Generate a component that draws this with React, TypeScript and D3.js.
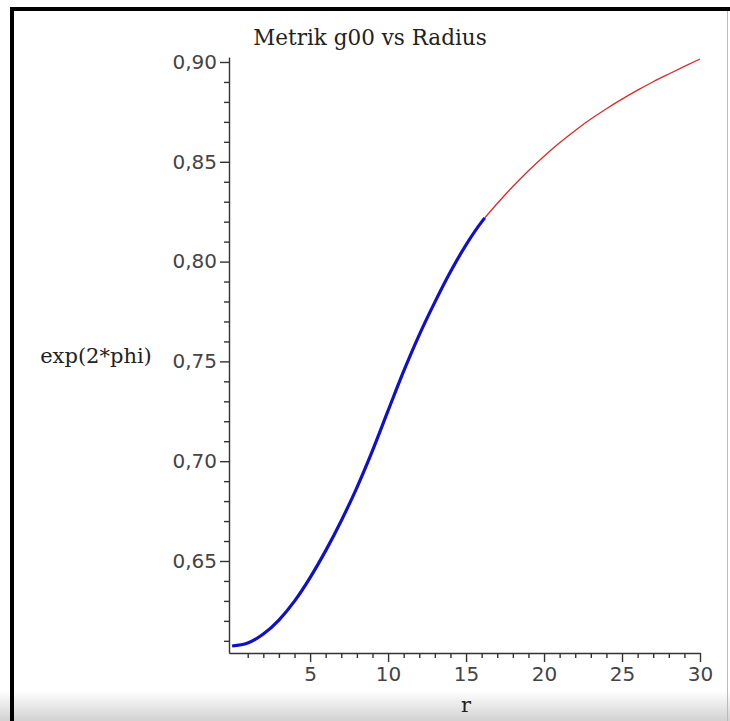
import React, { useEffect, useRef } from 'react'
import * as d3 from 'd3'

// r values and exp(2*phi)
const innerR = [0, 1, 2, 3, 4, 5, 6, 7, 8, 9, 10, 11, 12, 13, 14, 15, 16, 16.2]
const innerG = [0.6074, 0.6089, 0.6134, 0.6204, 0.6299, 0.6417, 0.6552, 0.6702, 0.6868, 0.7053, 0.7253,
  0.7451, 0.7633, 0.7797, 0.7949, 0.8084, 0.8199, 0.8219]
const outerR = [16.2, 17, 18, 19, 20, 21, 22, 23, 24, 25, 26, 27, 28, 29, 30]
const outerG = [0.8219, 0.8291, 0.8376, 0.8455, 0.8528, 0.8595, 0.8657, 0.8714, 0.8766, 0.8814, 0.8859,
  0.8901, 0.8940, 0.8978, 0.9015]

const xMajor = [5, 10, 15, 20, 25, 30]
const yMajor = [0.65, 0.70, 0.75, 0.80, 0.85, 0.90]
const xExtent = [-0.2, 30]
const yExtent = [0.6039, 0.9025]

const App = () => {
  const ref = useRef<SVGSVGElement | null>(null)

  useEffect(() => {
    const width = 730
    const height = 721
    const svg = d3.select(ref.current)
    svg.selectAll('*').remove()

    svg.append('rect').attr('width', width).attr('height', height).attr('fill', '#fff')

    // frame of the screenshot
    const grad = svg.append('defs').append('linearGradient')
      .attr('id', 'bottomBar').attr('x1', 0).attr('x2', 0).attr('y1', 0).attr('y2', 1)
    grad.append('stop').attr('offset', '0%').attr('stop-color', '#ffffff')
    grad.append('stop').attr('offset', '100%').attr('stop-color', '#d2d2d2')
    svg.append('rect').attr('x', 0).attr('y', 691).attr('width', width).attr('height', 30)
      .attr('fill', 'url(#bottomBar)')
    svg.append('rect').attr('x', 10).attr('y', 7).attr('width', 720).attr('height', 4).attr('fill', '#000')
    svg.append('rect').attr('x', 10).attr('y', 7).attr('width', 4).attr('height', 714).attr('fill', '#000')
    svg.append('line').attr('x1', 727.5).attr('x2', 727.5).attr('y1', 11).attr('y2', height)
      .attr('stroke', '#bbb').attr('stroke-width', 1)

    const x = d3.scaleLinear().domain(xExtent).range([229, 700])
    const y = d3.scaleLinear().domain(yExtent).range([653, 57])

    const sans = '"DejaVu Sans", Verdana, sans-serif'
    const serif = '"DejaVu Serif", serif'

    // y axis
    const yMinor = d3.range(61, 91).map(d => d / 100).filter(d => Math.round(d * 100) % 5 !== 0)
    const yAxisMinor = svg.append('g').attr('transform', 'translate(229,0)')
      .call(d3.axisLeft(y).tickValues(yMinor).tickSize(5).tickSizeOuter(0).tickFormat(() => ''))
    yAxisMinor.select('.domain').remove()
    const yAxis = svg.append('g').attr('transform', 'translate(229,0)')
      .call(d3.axisLeft(y).tickValues(yMajor).tickSize(9).tickSizeOuter(0).tickPadding(3)
        .tickFormat(d => (+d).toFixed(2).replace('.', ',')))
    yAxis.selectAll('text').style('font-family', sans).style('font-size', '20px').attr('fill', '#444')

    // x axis
    const xMinor = d3.range(1, 31).filter(d => d % 5 !== 0)
    const xAxisMinor = svg.append('g').attr('transform', 'translate(0,653)')
      .call(d3.axisBottom(x).tickValues(xMinor).tickSize(5).tickSizeOuter(0).tickFormat(() => ''))
    xAxisMinor.select('.domain').remove()
    const xAxis = svg.append('g').attr('transform', 'translate(0,653)')
      .call(d3.axisBottom(x).tickValues(xMajor).tickSize(9).tickSizeOuter(0).tickPadding(5))
    xAxis.selectAll('text').style('font-family', sans).style('font-size', '20px').attr('fill', '#444')

    svg.selectAll('.domain, .tick line').attr('stroke', '#333').attr('stroke-width', 1.4)

    // curve
    const line = d3.line<[number, number]>()
      .x(d => x(d[0]))
      .y(d => y(d[1]))
      .curve(d3.curveMonotoneX)

    svg.append('path')
      .datum(outerR.map((r, i) => [r, outerG[i]] as [number, number]))
      .attr('d', line)
      .attr('fill', 'none')
      .attr('stroke', '#e02828')
      .attr('stroke-width', 1.3)

    svg.append('path')
      .datum(innerR.map((r, i) => [r, innerG[i]] as [number, number]))
      .attr('d', line)
      .attr('fill', 'none')
      .attr('stroke', '#1010c8')
      .attr('stroke-width', 3.2)

    // labels
    svg.append('text')
      .attr('x', 370).attr('y', 45)
      .attr('text-anchor', 'middle')
      .style('font-family', serif).style('font-size', '21.5px').attr('fill', '#222')
      .text('Metrik g00 vs Radius')

    svg.append('text')
      .attr('x', 96).attr('y', 363)
      .attr('text-anchor', 'middle')
      .style('font-family', serif).style('font-size', '21px').attr('fill', '#222')
      .text('exp(2*phi)')

    svg.append('text')
      .attr('x', 466).attr('y', 712)
      .attr('text-anchor', 'middle')
      .style('font-family', serif).style('font-size', '21px').attr('fill', '#222')
      .text('r')
  }, [])

  return (
    <svg ref={ref} width={730} height={721}
      style={{ position: 'absolute', left: 0, top: 0, display: 'block' }} />
  )
}

export default App
